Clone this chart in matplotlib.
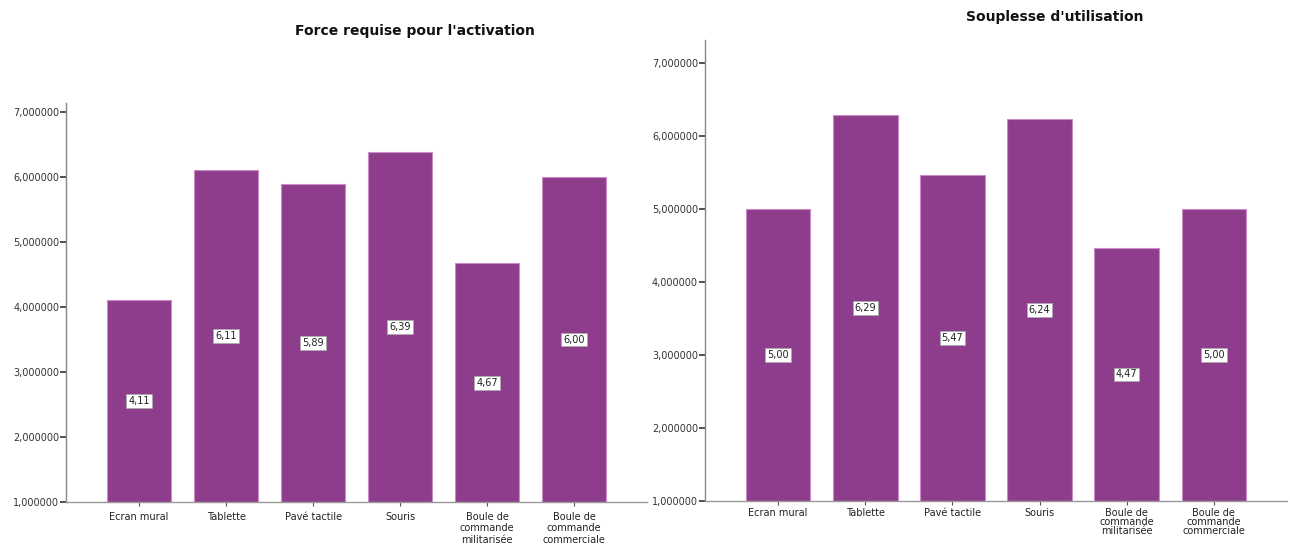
import matplotlib.pyplot as plt
import numpy as np

categories = ["Ecran mural", "Tablette", "Pavé tactile", "Souris",
              "Boule de\ncommande\nmilitarisée", "Boule de\ncommande\ncommerciale"]
force_values = [4.11, 6.11, 5.89, 6.39, 4.67, 6.00]
souplesse_values = [5.00, 6.29, 5.47, 6.24, 4.47, 5.00]
y_ticks = [1, 2, 3, 4, 5, 6, 7]

bar_color = "#8E3D8C"
edge_color = "#C98CC6"

plt.rcParams['font.family'] = ['DejaVu Sans']

fig = plt.figure(figsize=(12.9, 5.46), dpi=100)


def draw_panel(rect, values, ytop, lsp, xpad):
    ax = fig.add_axes(rect)
    x = np.arange(len(categories))
    ax.bar(x, np.array(values) - 1, bottom=1, width=0.74,
           color=bar_color, edgecolor=edge_color, linewidth=0.8)
    for xi, v in zip(x, values):
        ax.text(xi, (1 + v) / 2, f"{v:.2f}".replace(".", ","),
                ha="center", va="center", fontsize=7, color="#222222",
                bbox=dict(boxstyle="square,pad=0.2", fc="white",
                          ec="#aaaaaa", lw=0.5))
    ax.set_xlim(-0.84, len(categories) - 0.16)
    ax.set_ylim(1, ytop)
    ax.set_yticks(y_ticks)
    ax.set_yticklabels([f"{t:.6f}".replace(".", ",") for t in y_ticks])
    ax.set_xticks(x)
    ax.set_xticklabels(categories, fontsize=7, linespacing=lsp,
                       color="#222222")
    ax.tick_params(axis="y", labelsize=7, length=4, width=1.2,
                   color="#333333", labelcolor="#333333", pad=1)
    ax.tick_params(axis="x", length=3, width=0.8, color="#555555", pad=xpad)
    for s in ("top", "right"):
        ax.spines[s].set_visible(False)
    ax.spines["left"].set_color("#888888")
    ax.spines["bottom"].set_color("#999999")
    ax.spines["left"].set_linewidth(1.0)
    ax.spines["bottom"].set_linewidth(1.0)
    return ax


draw_panel([0.0512, 0.0806, 0.4504, 0.7308], force_values, 7.14, 1.2, 4)
draw_panel([0.5465, 0.0824, 0.4512, 0.8443], souplesse_values, 7.32, 0.85, 2)

fig.text(415 / 1290, 1 - 31 / 546, "Force requise pour l'activation",
         ha="center", va="center", fontsize=10, fontweight="bold",
         color="#111111")
fig.text(1055 / 1290, 1 - 17 / 546, "Souplesse d'utilisation",
         ha="center", va="center", fontsize=10, fontweight="bold",
         color="#111111")

fig.savefig("out.png", dpi=100)
